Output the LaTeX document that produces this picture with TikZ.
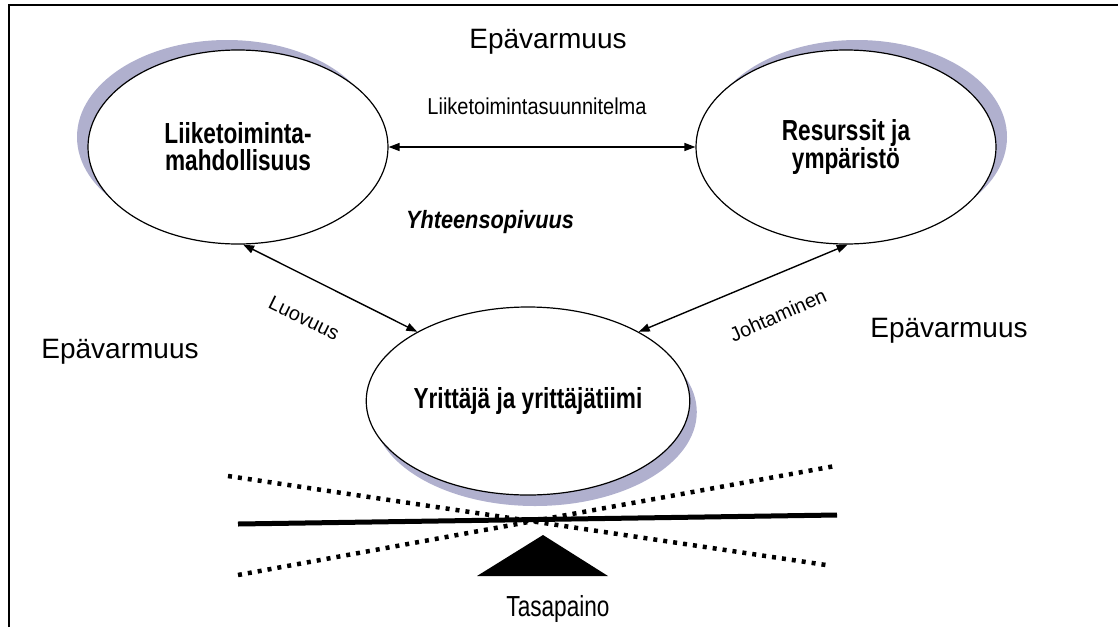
\documentclass[tikz,border=0pt]{standalone}
\usepackage{fontspec}
\setmainfont{Liberation Sans}
\newfontfamily\narrowfont[FakeStretch=0.78]{Liberation Sans}
\newfontfamily\semifont[FakeStretch=0.87]{Liberation Sans}
\usetikzlibrary{shapes.geometric,arrows.meta,shadows}
\definecolor{shadowc}{RGB}{176,176,206}
\begin{document}
\begin{tikzpicture}[x=1pt,y=-1pt,
  bubble/.style={ellipse, draw, line width=1.2pt, fill=white, inner sep=0pt, align=center,
    font=\narrowfont\bfseries\fontsize{29}{27}\selectfont},
  arr/.style={line width=1.4pt, {Triangle[length=11pt,width=8pt]}-{Triangle[length=11pt,width=8pt]}},
  big/.style={font=\fontsize{28}{30}\selectfont, inner sep=0pt},
  small/.style={font=\fontsize{20}{22}\selectfont, inner sep=0pt},
  dotline/.style={line width=4.5pt, dash pattern=on 4pt off 6pt},
]
\useasboundingbox (0,0) rectangle (1118,627);
% frame
\draw[line width=2.5pt] (9,627) -- (9,5) -- (1118,5);

% bubbles
\node[bubble, minimum width=300pt, minimum height=194pt,
  general shadow={fill=shadowc, shadow xshift=-11pt, shadow yshift=10pt}]
  (L) at (238,147) {Liiketoiminta-\\mahdollisuus};
\node[bubble, minimum width=300pt, minimum height=194pt,
  general shadow={fill=shadowc, shadow xshift=11pt, shadow yshift=10pt}]
  (R) at (846,147) {Resurssit ja\\ympäristö};
\node[bubble, minimum width=302pt, minimum height=188pt,
  general shadow={fill=shadowc, shadow xshift=7pt, shadow yshift=-11pt}]
  (B) at (528,401) {Yrittäjä ja yrittäjätiimi};

% connectors
\draw[arr] (L) -- (R);
\draw[arr] (L.-87) -- (B.148);
\draw[arr] (R.-89) -- (B.32);

% labels
\node[big] (u1) at (548,42) {Epävarmuus};
\node[big] (u2) at (120,352) {Epävarmuus};
\node[big] (u3) at (949,331) {Epävarmuus};
\node[font=\semifont\fontsize{23}{25}\selectfont, inner sep=0pt] (plan) at (537,106) {Liiketoimintasuunnitelma};
\node[font=\semifont\bfseries\itshape\fontsize{25}{27}\selectfont, inner sep=0pt] (fit) at (490,222) {Yhteensopivuus};
\node[small, rotate=-26] (luo) at (304,318) {Luovuus};
\node[small, rotate=24] (joh) at (778,315) {Johtaminen};

% balance
\coordinate (d1a) at (228,476);
\coordinate (d1b) at (826,565);
\coordinate (d2a) at (238,575);
\coordinate (d2b) at (835,466);
\coordinate (sa) at (238,524);
\coordinate (sb) at (837,515);
\draw[dotline] (d1a) -- (d1b);
\draw[dotline] (d2a) -- (d2b);
\draw[line width=5pt] (sa) -- (sb);
\fill (543,535) -- (608,576) -- (477,576) -- cycle;
\node[font=\narrowfont\fontsize{29}{31}\selectfont, inner sep=0pt] (bal) at (558,609) {Tasapaino};
\end{tikzpicture}
\end{document}
